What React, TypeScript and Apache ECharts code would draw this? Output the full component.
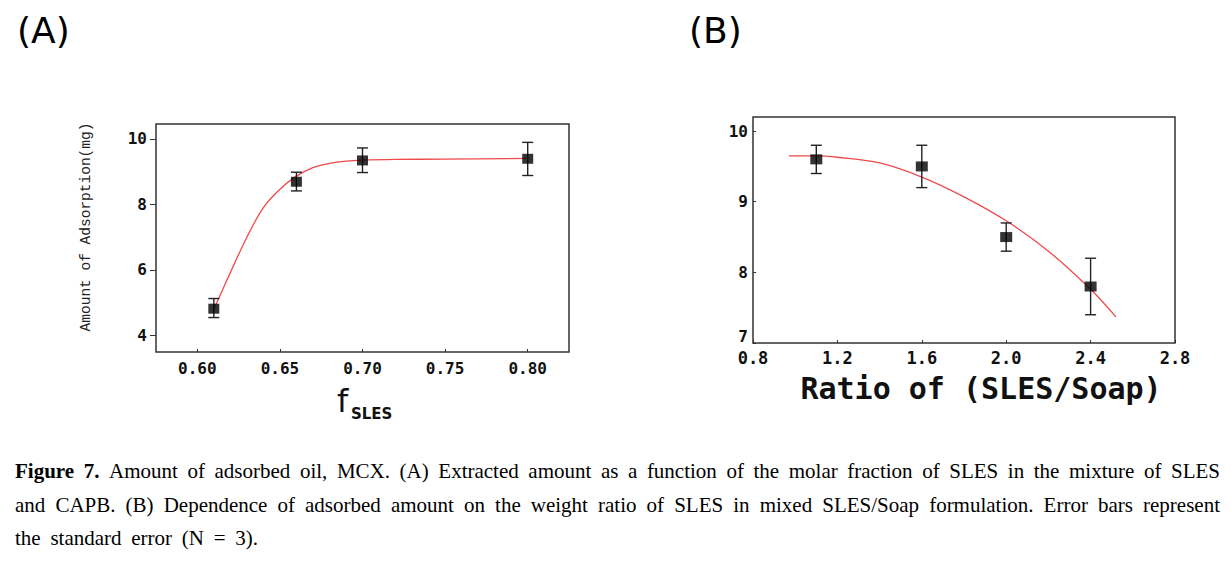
import React, { useEffect, useRef } from "react";
import * as echarts from "echarts";

// ---------- Panel A data ----------
const xTicksA = [0.6, 0.65, 0.7, 0.75, 0.8];
const yTicksA = [4, 6, 8, 10];
const xA = [0.61, 0.66, 0.7, 0.8];
const yA = [4.82, 8.69, 9.34, 9.39];
const lowA = [4.55, 8.41, 8.97, 8.88];
const highA = [5.13, 8.98, 9.72, 9.89];
const fitXA = [0.61, 0.62, 0.63, 0.64, 0.65, 0.66, 0.67, 0.68, 0.69, 0.7, 0.72, 0.75, 0.8];
const fitYA = [4.8, 5.92, 7.0, 7.9, 8.46, 8.86, 9.12, 9.25, 9.32, 9.35, 9.37, 9.38, 9.4];

// ---------- Panel B data ----------
const xTicksB = [0.8, 1.2, 1.6, 2.0, 2.4, 2.8];
const yTicksB = [7, 8, 9, 10];
const xB = [1.1, 1.6, 2.0, 2.4];
const yB = [9.6, 9.5, 8.5, 7.8];
const lowB = [9.4, 9.2, 8.3, 7.4];
const highB = [9.8, 9.8, 8.7, 8.2];
const fitXB = [0.97, 1.1, 1.2, 1.4, 1.6, 1.8, 2.0, 2.2, 2.4, 2.52];
const fitYB = [9.65, 9.65, 9.63, 9.55, 9.35, 9.07, 8.73, 8.3, 7.76, 7.37];

// ---------- Texts ----------
const titleA = "(A)";
const titleB = "(B)";
const yNameA = "Amount of Adsorption(mg)";
const xNameAMain = "f";
const xNameASub = "SLES";
const xNameB = "Ratio of (SLES/Soap)";
const captionBold = "Figure 7.";
const captionLines = [
  "Amount of adsorbed oil, MCX. (A) Extracted amount as a function of the molar fraction of SLES in the mixture of SLES",
  "and CAPB. (B) Dependence of adsorbed amount on the weight ratio of SLES in mixed SLES/Soap formulation. Error bars represent",
  "the standard error (N = 3).",
];

const CAP_FONT = "Liberation Serif";
const CAP_SIZE = 21;
const MONO = "DejaVu Sans Mono";

function buildCaption(): any[] {
  const canvas = document.createElement("canvas");
  const ctx = canvas.getContext("2d") as CanvasRenderingContext2D;
  const rights = [1220, 1220, 258];
  const centers = [471, 505, 538];
  const left = 15;
  const out: any[] = [];
  captionLines.forEach((line, li) => {
    const words: { t: string; b: boolean }[] = [];
    if (li === 0) captionBold.split(" ").forEach((t) => words.push({ t, b: true }));
    line.split(" ").forEach((t) => words.push({ t, b: false }));
    const widths = words.map((w) => {
      ctx.font = `${w.b ? "bold " : ""}${CAP_SIZE}px "${CAP_FONT}"`;
      return ctx.measureText(w.t).width;
    });
    const total = widths.reduce((a, b) => a + b, 0);
    const gap = Math.max(3, (rights[li] - left - total) / (words.length - 1));
    let x = left;
    words.forEach((w, i) => {
      out.push({
        type: "text",
        x,
        y: centers[li],
        silent: true,
        style: {
          text: w.t,
          fontFamily: CAP_FONT,
          fontSize: CAP_SIZE,
          fontWeight: w.b ? "bold" : "normal",
          fill: "#000",
          align: "left",
          verticalAlign: "middle",
        },
      });
      x += widths[i] + gap;
    });
  });
  return out;
}

function errRender(params: any, api: any) {
  const x = api.value(0);
  const p1 = api.coord([x, api.value(1)]);
  const p2 = api.coord([x, api.value(2)]);
  const hw = 5.5;
  const st = { stroke: "#222", lineWidth: 1.4 };
  return {
    type: "group",
    children: [
      { type: "line", shape: { x1: p1[0], y1: p1[1], x2: p2[0], y2: p2[1] }, style: st },
      { type: "line", shape: { x1: p1[0] - hw, y1: p1[1], x2: p1[0] + hw, y2: p1[1] }, style: st },
      { type: "line", shape: { x1: p2[0] - hw, y1: p2[1], x2: p2[0] + hw, y2: p2[1] }, style: st },
    ],
  };
}

export default function App() {
  const ref = useRef<HTMLDivElement>(null);
  useEffect(() => {
    if (!ref.current) return;
    const chart = echarts.init(ref.current, undefined, { renderer: "svg" });
    const labelStyle = {
      fontFamily: MONO,
      fontWeight: "bold" as const,
      color: "#111",
    };
    const option: any = {
      animation: false,
      backgroundColor: "#fff",
      grid: [
        { left: 156, top: 124, width: 413, height: 228, show: true, borderColor: "#333", borderWidth: 1.5, backgroundColor: "transparent" },
        { left: 753, top: 117, width: 422, height: 226, show: true, borderColor: "#333", borderWidth: 1.5, backgroundColor: "transparent" },
      ],
      xAxis: [
        {
          type: "value",
          gridIndex: 0,
          min: 0.575,
          max: 0.825,
          axisLine: { show: false },
          splitLine: { show: false },
          axisTick: { show: true, inside: true, length: 3, customValues: xTicksA, lineStyle: { color: "#333" } },
          axisLabel: { ...labelStyle, fontSize: 16, margin: 8, customValues: xTicksA, formatter: (v: number) => v.toFixed(2) },
        },
        {
          type: "value",
          gridIndex: 1,
          min: 0.8,
          max: 2.8,
          axisLine: { show: false },
          splitLine: { show: false },
          axisTick: { show: true, inside: true, length: 3, customValues: xTicksB, lineStyle: { color: "#333" } },
          axisLabel: { ...labelStyle, fontSize: 17, margin: 6, customValues: xTicksB, formatter: (v: number) => v.toFixed(1) },
        },
      ],
      yAxis: [
        {
          type: "value",
          gridIndex: 0,
          min: 3.5,
          max: 10.45,
          axisLine: { show: false },
          splitLine: { show: false },
          axisTick: { show: true, inside: false, length: 6, customValues: yTicksA, lineStyle: { color: "#333" } },
          axisLabel: { ...labelStyle, fontSize: 16, margin: 9, customValues: yTicksA },
        },
        {
          type: "value",
          gridIndex: 1,
          min: 7,
          max: 10.2,
          axisLine: { show: false },
          splitLine: { show: false },
          axisTick: { show: true, inside: true, length: 3, customValues: yTicksB, lineStyle: { color: "#333" } },
          axisLabel: {
            ...labelStyle,
            fontSize: 16,
            margin: 5,
            customValues: yTicksB,
            formatter: (v: number) => (v === yTicksB[0] ? `{low|${v}}` : `${v}`),
            rich: { low: { fontFamily: MONO, fontWeight: "bold", fontSize: 16, color: "#111", padding: [0, 0, 14, 0] } },
          },
        },
      ],
      series: [
        {
          type: "line",
          xAxisIndex: 0,
          yAxisIndex: 0,
          data: fitXA.map((x, i) => [x, fitYA[i]]),
          smooth: 0.35,
          showSymbol: false,
          lineStyle: { color: "#f04a4a", width: 1.3 },
          silent: true,
          z: 2,
        },
        {
          type: "custom",
          xAxisIndex: 0,
          yAxisIndex: 0,
          data: xA.map((x, i) => [x, lowA[i], highA[i]]),
          encode: { x: 0, y: [1, 2] },
          renderItem: errRender,
          z: 3,
        },
        {
          type: "scatter",
          xAxisIndex: 0,
          yAxisIndex: 0,
          data: xA.map((x, i) => [x, yA[i]]),
          symbol: "rect",
          symbolSize: [11, 10],
          itemStyle: { color: "#000" },
          z: 4,
        },
        {
          type: "line",
          xAxisIndex: 1,
          yAxisIndex: 1,
          data: fitXB.map((x, i) => [x, fitYB[i]]),
          smooth: 0.35,
          showSymbol: false,
          lineStyle: { color: "#f04a4a", width: 1.3 },
          silent: true,
          z: 2,
        },
        {
          type: "custom",
          xAxisIndex: 1,
          yAxisIndex: 1,
          data: xB.map((x, i) => [x, lowB[i], highB[i]]),
          encode: { x: 0, y: [1, 2] },
          renderItem: errRender,
          z: 3,
        },
        {
          type: "scatter",
          xAxisIndex: 1,
          yAxisIndex: 1,
          data: xB.map((x, i) => [x, yB[i]]),
          symbol: "rect",
          symbolSize: [12, 10],
          itemStyle: { color: "#000" },
          z: 4,
        },
      ],
      graphic: [
        { type: "text", x: 17, y: 30, silent: true, style: { text: titleA, fontFamily: "DejaVu Sans", fontSize: 36, fill: "#000", align: "left", verticalAlign: "middle" } },
        { type: "text", x: 689, y: 30, silent: true, style: { text: titleB, fontFamily: "DejaVu Sans", fontSize: 36, fill: "#000", align: "left", verticalAlign: "middle" } },
        { type: "text", x: 86, y: 227, rotation: Math.PI / 2, silent: true, style: { text: yNameA, fontFamily: "Liberation Mono", fontSize: 14.5, fill: "#222", align: "center", verticalAlign: "middle" } },
        { type: "text", x: 337, y: 401, silent: true, style: { text: xNameAMain, fontFamily: "DejaVu Sans", fontSize: 32, fill: "#111", align: "left", verticalAlign: "middle" } },
        { type: "text", x: 351, y: 414, silent: true, style: { text: xNameASub, fontFamily: "DejaVu Sans", fontWeight: "bold", fontSize: 15, fill: "#111", align: "left", verticalAlign: "middle" } },
        { type: "text", x: 981, y: 388, silent: true, style: { text: xNameB, fontFamily: MONO, fontWeight: "bold", fontSize: 30, fill: "#111", align: "center", verticalAlign: "middle" } },
        ...buildCaption(),
      ],
    };
    chart.setOption(option);
    return () => chart.dispose();
  }, []);
  return <div ref={ref} style={{ position: "absolute", left: 0, top: 0, width: 1231, height: 564 }} />;
}
